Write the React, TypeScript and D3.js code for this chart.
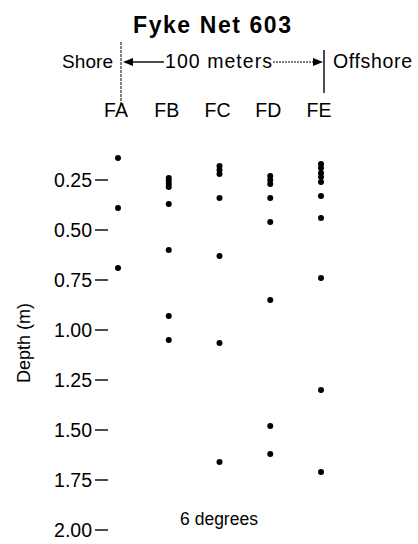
import React from "react";
import * as d3 from "d3";

const stations = ["FA", "FB", "FC", "FD", "FE"];
const depthFA = [0.14, 0.39, 0.69];
const depthFB = [0.24, 0.255, 0.27, 0.285, 0.37, 0.6, 0.93, 1.05];
const depthFC = [0.18, 0.2, 0.22, 0.34, 0.63, 1.065, 1.66];
const depthFD = [0.23, 0.25, 0.27, 0.34, 0.46, 0.85, 1.48, 1.62];
const depthFE = [0.17, 0.19, 0.215, 0.235, 0.26, 0.33, 0.44, 0.74, 1.3, 1.71];
const yTicks = [0.25, 0.5, 0.75, 1.0, 1.25, 1.5, 1.75, 2.0];

const series = [depthFA, depthFB, depthFC, depthFD, depthFE];

export default function App() {
  const W = 418, H = 544;
  const x = d3.scalePoint<string>().domain(stations).range([118, 321]);
  const y = d3.scaleLinear().domain([0.25, 2.0]).range([180, 530]);
  const font = "'Liberation Sans', Arial, Helvetica, sans-serif";
  const leftX = 121;
  const rightX = 324;
  const arrowY = 62;
  return (
    <svg width={W} height={H} style={{ position: "absolute", left: 0, top: 0 }} fontFamily={font}>
      <rect width={W} height={H} fill="#fff" />
      <text x={133} y={33} fontSize={23} fontWeight="bold" textLength={158} lengthAdjust="spacing">Fyke Net 603</text>
      {/* header */}
      <line x1={leftX} x2={leftX} y1={42} y2={105} stroke="#000" strokeWidth={1} strokeDasharray="3,1" />
      <line x1={rightX} x2={rightX} y1={50} y2={93} stroke="#000" strokeWidth={1.4} />
      <text x={62} y={68} fontSize={19} textLength={51} lengthAdjust="spacing">Shore</text>
      <text x={333} y={68} fontSize={19.5} textLength={79} lengthAdjust="spacing">Offshore</text>
      <path d={`M${leftX + 2},${arrowY} L${leftX + 12},${arrowY - 4} L${leftX + 12},${arrowY + 4} Z`} fill="#000" />
      <line x1={leftX + 12} x2={164} y1={arrowY} y2={arrowY} stroke="#000" strokeWidth={1.4} />
      <text x={165} y={68} fontSize={19.5} textLength={107} lengthAdjust="spacing">100 meters</text>
      <line x1={273} x2={rightX - 11} y1={arrowY} y2={arrowY} stroke="#000" strokeWidth={1} strokeDasharray="2,1" />
      <path d={`M${rightX - 1},${arrowY} L${rightX - 11},${arrowY - 4} L${rightX - 11},${arrowY + 4} Z`} fill="#000" />
      {stations.map((s) => (
        <text key={s} x={x(s)! - 2} y={117} textAnchor="middle" fontSize={19.5}>{s}</text>
      ))}
      {/* y axis labels */}
      {yTicks.map((t) => (
        <g key={t}>
          <text x={92} y={y(t) + 7} textAnchor="end" fontSize={19.5}>{t.toFixed(2)}</text>
          <line x1={95} x2={108} y1={y(t)} y2={y(t)} stroke="#000" strokeWidth={1.4} />
        </g>
      ))}
      <text transform={`translate(30,${343}) rotate(-90)`} textAnchor="middle" fontSize={18}>Depth (m)</text>
      <text x={219} y={525} textAnchor="middle" fontSize={17.5}>6 degrees</text>
      {series.map((arr, i) =>
        arr.map((d, j) => (
          <circle key={`${i}-${j}`} cx={x(stations[i])!} cy={y(d)} r={3} fill="#000" />
        ))
      )}
    </svg>
  );
}
